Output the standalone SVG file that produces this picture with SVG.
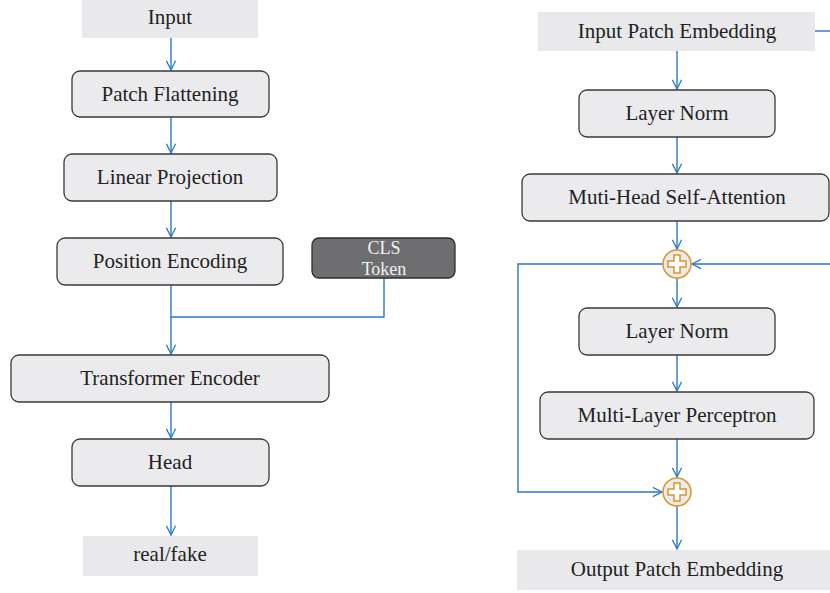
<svg xmlns="http://www.w3.org/2000/svg" width="830" height="593" viewBox="0 0 830 593">
  <defs>
    <style>
      .plain { fill: #e9e9eb; stroke: none; }
      .box { fill: #ebebed; stroke: #3a3a3a; stroke-width: 1.3; }
      .dark { fill: #6e6e70; stroke: #2e2e2e; stroke-width: 1.3; }
      .lbl { font-family: "Liberation Serif", "Times New Roman", serif; font-size: 21px; fill: #222; text-anchor: middle; }
      .lblw { font-family: "Liberation Serif", "Times New Roman", serif; font-size: 18px; fill: #f2f2f2; text-anchor: middle; }
      .wire { fill: none; stroke: #2a78c8; stroke-width: 1.4; }
      .sum { fill: #ebebed; stroke: #d9962a; stroke-width: 1.5; }
      .cross { fill: #ffffff; stroke: #d9962a; stroke-width: 1.5; }
    </style>
    <marker id="arr" viewBox="0 0 12 12" refX="11" refY="6" markerWidth="11" markerHeight="11" markerUnits="userSpaceOnUse" orient="auto">
      <path d="M1,1 L11,6 L1,11" fill="none" stroke="#2a78c8" stroke-width="1.4"/>
    </marker>
    <path id="plus" d="M-3,-9 H3 V-3 H9 V3 H3 V9 H-3 V3 H-9 V-3 H-3 Z"/>
  </defs>

  <!-- connectors -->
  <g id="connectors">
    <line class="wire" x1="171" y1="38" x2="171" y2="70" marker-end="url(#arr)"/>
    <line class="wire" x1="171" y1="117" x2="171" y2="153" marker-end="url(#arr)"/>
    <line class="wire" x1="171" y1="201" x2="171" y2="237" marker-end="url(#arr)"/>
    <line class="wire" x1="171" y1="285" x2="171" y2="354" marker-end="url(#arr)"/>
    <polyline class="wire" points="384,278 384,317 171,317"/>
    <line class="wire" x1="171" y1="402" x2="171" y2="438" marker-end="url(#arr)"/>
    <line class="wire" x1="171" y1="486" x2="171" y2="535" marker-end="url(#arr)"/>

    <line class="wire" x1="815" y1="31" x2="830" y2="31"/>
    <line class="wire" x1="677" y1="51" x2="677" y2="89" marker-end="url(#arr)"/>
    <line class="wire" x1="677" y1="137" x2="677" y2="173" marker-end="url(#arr)"/>
    <line class="wire" x1="677" y1="221" x2="677" y2="249" marker-end="url(#arr)"/>
    <line class="wire" x1="830" y1="264" x2="692" y2="264" marker-end="url(#arr)"/>
    <polyline class="wire" points="663,264 518,264 518,492 662,492" marker-end="url(#arr)"/>
    <line class="wire" x1="677" y1="278" x2="677" y2="307" marker-end="url(#arr)"/>
    <line class="wire" x1="677" y1="355" x2="677" y2="391" marker-end="url(#arr)"/>
    <line class="wire" x1="677" y1="439" x2="677" y2="477" marker-end="url(#arr)"/>
    <line class="wire" x1="677" y1="506" x2="677" y2="549" marker-end="url(#arr)"/>
  </g>

  <!-- left pipeline -->
  <g id="input"><rect class="plain" x="82" y="0" width="176" height="38"/><text class="lbl" x="170" y="24">Input</text></g>
  <g id="patch-flattening"><rect class="box" x="72" y="71" width="197" height="46" rx="8"/><text class="lbl" x="170" y="101">Patch Flattening</text></g>
  <g id="linear-projection"><rect class="box" x="64" y="154" width="213" height="47" rx="8"/><text class="lbl" x="170" y="184">Linear Projection</text></g>
  <g id="position-encoding"><rect class="box" x="57" y="238" width="226" height="47" rx="8"/><text class="lbl" x="170" y="268">Position Encoding</text></g>
  <g id="cls-token"><rect class="dark" x="312" y="238" width="143" height="40" rx="7"/><text class="lblw" x="384" y="254">CLS</text><text class="lblw" x="384" y="275">Token</text></g>
  <g id="transformer-encoder"><rect class="box" x="11" y="355" width="318" height="47" rx="8"/><text class="lbl" x="170" y="385">Transformer Encoder</text></g>
  <g id="head"><rect class="box" x="72" y="439" width="197" height="47" rx="8"/><text class="lbl" x="170" y="469">Head</text></g>
  <g id="real-fake"><rect class="plain" x="83" y="536" width="175" height="40"/><text class="lbl" x="170" y="561">real/fake</text></g>

  <!-- encoder block -->
  <g id="input-patch-embedding"><rect class="plain" x="538" y="12" width="277" height="39"/><text class="lbl" x="677" y="38">Input Patch Embedding</text></g>
  <g id="layer-norm-1"><rect class="box" x="579" y="90" width="196" height="47" rx="8"/><text class="lbl" x="677" y="120">Layer Norm</text></g>
  <g id="self-attention"><rect class="box" x="522" y="174" width="307" height="47" rx="8"/><text class="lbl" x="677" y="204">Muti-Head Self-Attention</text></g>
  <g id="add-1"><circle class="sum" cx="677" cy="264" r="14"/><use href="#plus" class="cross" transform="translate(677,264)"/></g>
  <g id="layer-norm-2"><rect class="box" x="579" y="308" width="196" height="47" rx="8"/><text class="lbl" x="677" y="338">Layer Norm</text></g>
  <g id="mlp"><rect class="box" x="540" y="392" width="274" height="47" rx="8"/><text class="lbl" x="677" y="422">Multi-Layer Perceptron</text></g>
  <g id="add-2"><circle class="sum" cx="677" cy="492" r="14"/><use href="#plus" class="cross" transform="translate(677,492)"/></g>
  <g id="output-patch-embedding"><rect class="plain" x="517" y="550" width="313" height="40"/><text class="lbl" x="677" y="576">Output Patch Embedding</text></g>
</svg>
